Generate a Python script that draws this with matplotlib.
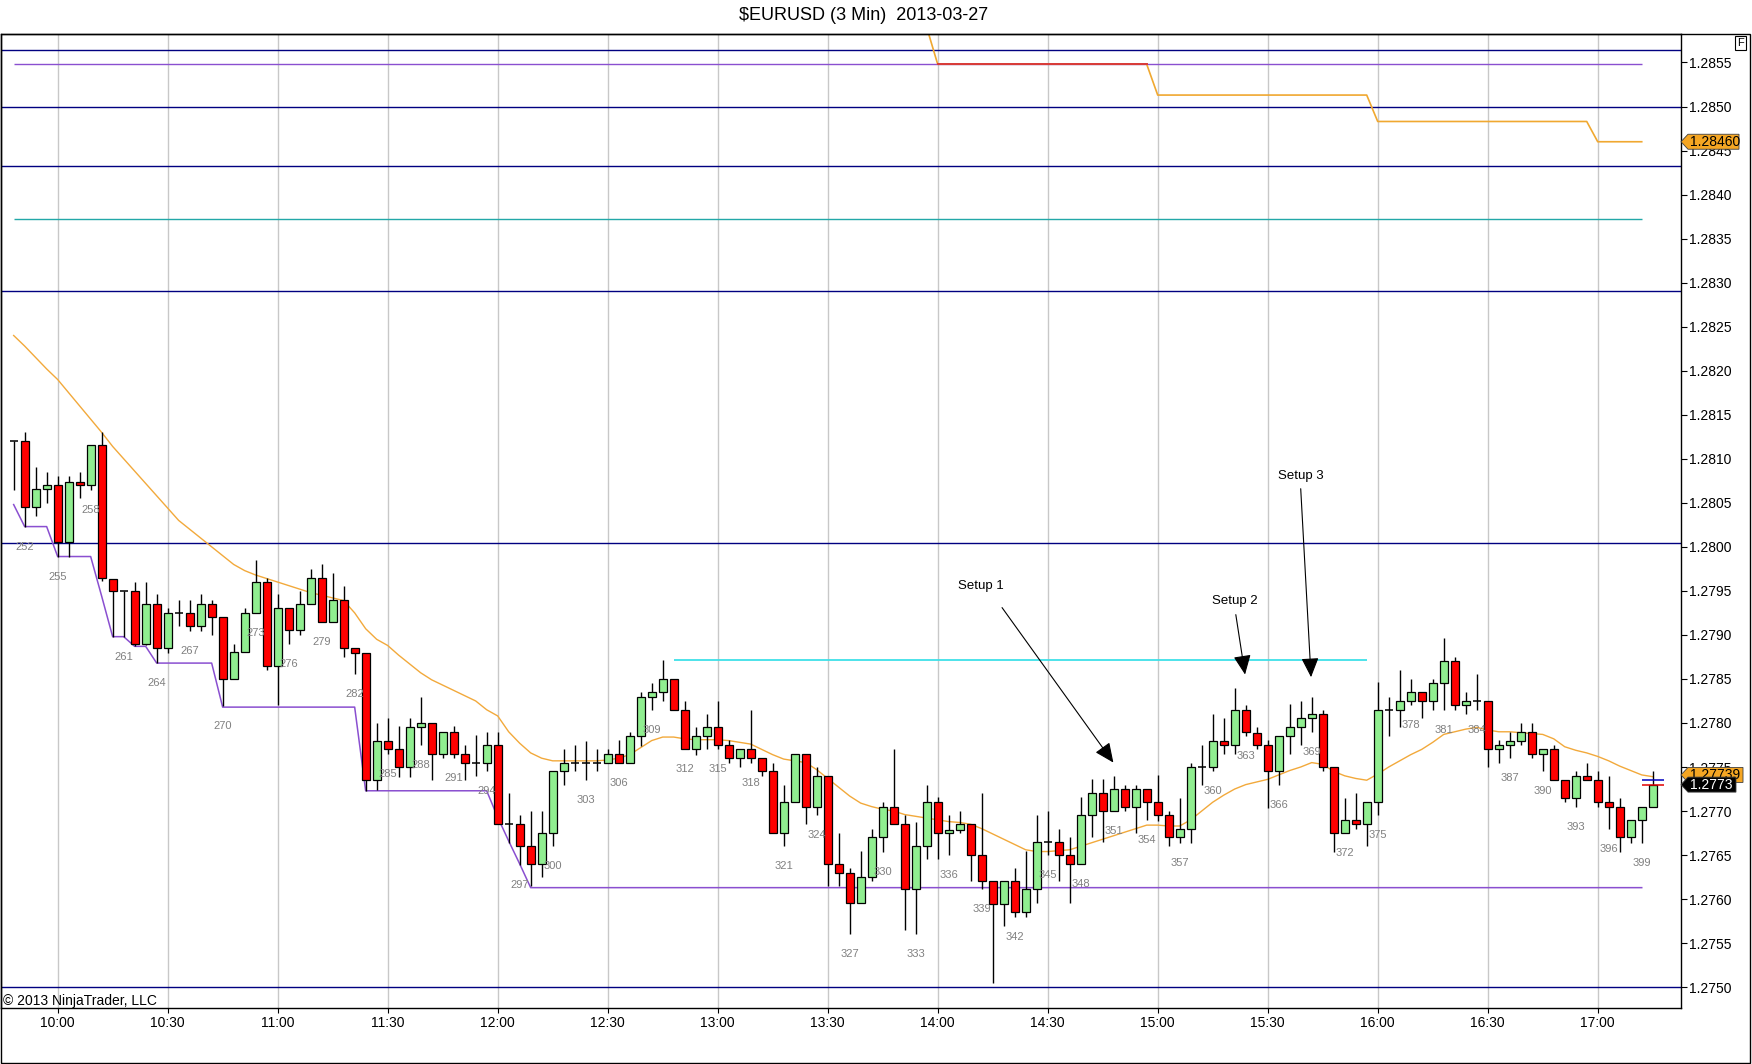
import numpy as np
import matplotlib
matplotlib.use('Agg')
import matplotlib.pyplot as plt
from matplotlib.patches import Rectangle, Polygon
from matplotlib import transforms

plt.rcParams['font.family'] = ['Liberation Sans', 'DejaVu Sans']

# ---- data: 3 min bars, index 251..400 ----
first_bar = 251

opens = [
    1.28120, 1.28120, 1.28045, 1.28066, 1.28070, 1.28005, 1.28074, 1.28070, 1.28116, 1.27964,
    1.27950, 1.27950, 1.27890, 1.27935, 1.27885, 1.27925, 1.27925, 1.27910, 1.27935, 1.27920,
    1.27850, 1.27881, 1.27925, 1.27960, 1.27865, 1.27930, 1.27906, 1.27935, 1.27965, 1.27915,
    1.27940, 1.27885, 1.27880, 1.27735, 1.27780, 1.27770, 1.27750, 1.27795, 1.27800, 1.27765,
    1.27790, 1.27765, 1.27755, 1.27755, 1.27775, 1.27685, 1.27685, 1.27660, 1.27640, 1.27675,
    1.27745, 1.27755, 1.27755, 1.27755, 1.27755, 1.27765, 1.27755, 1.27785, 1.27830, 1.27835,
    1.27850, 1.27815, 1.27770, 1.27785, 1.27795, 1.27775, 1.27760, 1.27770, 1.27760, 1.27745,
    1.27675, 1.27710, 1.27765, 1.27705, 1.27740, 1.27640, 1.27630, 1.27596, 1.27625, 1.27670,
    1.27705, 1.27685, 1.27611, 1.27660, 1.27710, 1.27675, 1.27679, 1.27685, 1.27650, 1.27621,
    1.27595, 1.27620, 1.27585, 1.27611, 1.27665, 1.27665, 1.27650, 1.27640, 1.27696, 1.27720,
    1.27700, 1.27725, 1.27705, 1.27725, 1.27710, 1.27695, 1.27670, 1.27680, 1.27750, 1.27750,
    1.27780, 1.27775, 1.27815, 1.27789, 1.27775, 1.27745, 1.27785, 1.27795, 1.27806, 1.27810,
    1.27750, 1.27675, 1.27690, 1.27685, 1.27710, 1.27815, 1.27815, 1.27825, 1.27835, 1.27825,
    1.27845, 1.27870, 1.27820, 1.27825, 1.27825, 1.27770, 1.27775, 1.27780, 1.27790, 1.27765,
    1.27770, 1.27735, 1.27715, 1.27740, 1.27735, 1.27710, 1.27705, 1.27670, 1.27690, 1.27705,
]
highs = [
    1.28120, 1.28130, 1.28091, 1.28085, 1.28080, 1.28080, 1.28085, 1.28116, 1.28130, 1.27964,
    1.27950, 1.27960, 1.27960, 1.27946, 1.27930, 1.27940, 1.27940, 1.27946, 1.27940, 1.27920,
    1.27890, 1.27931, 1.27985, 1.27965, 1.27946, 1.27930, 1.27950, 1.27975, 1.27980, 1.27970,
    1.27956, 1.27885, 1.27880, 1.27800, 1.27806, 1.27796, 1.27806, 1.27830, 1.27800, 1.27790,
    1.27796, 1.27775, 1.27786, 1.27790, 1.27790, 1.27720, 1.27696, 1.27700, 1.27700, 1.27745,
    1.27770, 1.27775, 1.27780, 1.27770, 1.27771, 1.27781, 1.27790, 1.27835, 1.27845, 1.27871,
    1.27850, 1.27825, 1.27795, 1.27810, 1.27825, 1.27781, 1.27770, 1.27815, 1.27760, 1.27755,
    1.27730, 1.27765, 1.27765, 1.27750, 1.27740, 1.27675, 1.27635, 1.27655, 1.27680, 1.27710,
    1.27770, 1.27696, 1.27688, 1.27730, 1.27716, 1.27696, 1.27700, 1.27685, 1.27720, 1.27621,
    1.27620, 1.27635, 1.27655, 1.27696, 1.27700, 1.27680, 1.27670, 1.27716, 1.27736, 1.27736,
    1.27740, 1.27730, 1.27730, 1.27725, 1.27741, 1.27700, 1.27715, 1.27755, 1.27775, 1.27810,
    1.27806, 1.27840, 1.27820, 1.27795, 1.27781, 1.27785, 1.27821, 1.27825, 1.27830, 1.27815,
    1.27750, 1.27715, 1.27720, 1.27710, 1.27846, 1.27830, 1.27860, 1.27850, 1.27835, 1.27850,
    1.27896, 1.27875, 1.27835, 1.27856, 1.27825, 1.27781, 1.27790, 1.27800, 1.27800, 1.27770,
    1.27775, 1.27735, 1.27745, 1.27755, 1.27745, 1.27740, 1.27715, 1.27690, 1.27705, 1.27746,
]
lows = [
    1.28065, 1.28023, 1.28035, 1.28050, 1.27989, 1.27989, 1.28055, 1.28065, 1.27961, 1.27898,
    1.27898, 1.27887, 1.27888, 1.27868, 1.27880, 1.27910, 1.27905, 1.27905, 1.27900, 1.27819,
    1.27850, 1.27881, 1.27925, 1.27860, 1.27820, 1.27890, 1.27900, 1.27935, 1.27915, 1.27915,
    1.27875, 1.27856, 1.27723, 1.27724, 1.27765, 1.27739, 1.27739, 1.27775, 1.27735, 1.27760,
    1.27760, 1.27735, 1.27740, 1.27745, 1.27685, 1.27664, 1.27639, 1.27615, 1.27625, 1.27660,
    1.27730, 1.27745, 1.27735, 1.27745, 1.27755, 1.27755, 1.27755, 1.27774, 1.27815, 1.27825,
    1.27815, 1.27770, 1.27764, 1.27770, 1.27770, 1.27755, 1.27750, 1.27755, 1.27740, 1.27675,
    1.27660, 1.27710, 1.27685, 1.27695, 1.27615, 1.27615, 1.27560, 1.27596, 1.27620, 1.27654,
    1.27685, 1.27565, 1.27560, 1.27646, 1.27646, 1.27650, 1.27675, 1.27620, 1.27611, 1.27505,
    1.27570, 1.27580, 1.27580, 1.27596, 1.27650, 1.27620, 1.27596, 1.27640, 1.27670, 1.27665,
    1.27700, 1.27700, 1.27675, 1.27690, 1.27689, 1.27660, 1.27664, 1.27664, 1.27729, 1.27745,
    1.27765, 1.27765, 1.27785, 1.27770, 1.27704, 1.27729, 1.27765, 1.27775, 1.27790, 1.27745,
    1.27654, 1.27675, 1.27680, 1.27660, 1.27695, 1.27785, 1.27795, 1.27820, 1.27806, 1.27815,
    1.27815, 1.27815, 1.27810, 1.27815, 1.27750, 1.27754, 1.27760, 1.27775, 1.27760, 1.27745,
    1.27735, 1.27710, 1.27705, 1.27735, 1.27705, 1.27680, 1.27654, 1.27664, 1.27664, 1.27705,
]
closes = [
    1.28120, 1.28045, 1.28066, 1.28070, 1.28005, 1.28074, 1.28070, 1.28116, 1.27965, 1.27950,
    1.27950, 1.27890, 1.27935, 1.27885, 1.27925, 1.27925, 1.27910, 1.27935, 1.27920, 1.27850,
    1.27881, 1.27925, 1.27960, 1.27865, 1.27930, 1.27906, 1.27935, 1.27965, 1.27915, 1.27940,
    1.27885, 1.27880, 1.27735, 1.27780, 1.27770, 1.27750, 1.27795, 1.27800, 1.27765, 1.27790,
    1.27765, 1.27755, 1.27755, 1.27775, 1.27685, 1.27685, 1.27660, 1.27640, 1.27675, 1.27745,
    1.27755, 1.27755, 1.27755, 1.27755, 1.27765, 1.27755, 1.27785, 1.27830, 1.27835, 1.27850,
    1.27815, 1.27770, 1.27785, 1.27795, 1.27775, 1.27760, 1.27770, 1.27760, 1.27745, 1.27675,
    1.27710, 1.27765, 1.27705, 1.27740, 1.27640, 1.27630, 1.27596, 1.27625, 1.27670, 1.27705,
    1.27685, 1.27611, 1.27660, 1.27710, 1.27675, 1.27679, 1.27685, 1.27650, 1.27621, 1.27595,
    1.27620, 1.27585, 1.27611, 1.27665, 1.27665, 1.27650, 1.27640, 1.27696, 1.27720, 1.27700,
    1.27725, 1.27705, 1.27725, 1.27710, 1.27695, 1.27670, 1.27680, 1.27750, 1.27750, 1.27780,
    1.27775, 1.27815, 1.27790, 1.27775, 1.27745, 1.27785, 1.27795, 1.27806, 1.27810, 1.27750,
    1.27675, 1.27690, 1.27685, 1.27710, 1.27815, 1.27815, 1.27825, 1.27835, 1.27825, 1.27845,
    1.27870, 1.27820, 1.27825, 1.27825, 1.27770, 1.27775, 1.27780, 1.27790, 1.27765, 1.27770,
    1.27735, 1.27715, 1.27740, 1.27735, 1.27710, 1.27705, 1.27670, 1.27690, 1.27705, 1.27730,
]

# moving average (orange), one value per bar
ema = [
    1.28240, 1.28228, 1.28215, 1.28202, 1.28190, 1.28175, 1.28160, 1.28145, 1.28130, 1.28114,
    1.28100, 1.28086, 1.28072, 1.28058, 1.28044, 1.28030, 1.28020, 1.28010, 1.28000, 1.27990,
    1.27980, 1.27973, 1.27968, 1.27964, 1.27960, 1.27956, 1.27952, 1.27948, 1.27945, 1.27942,
    1.27939, 1.27925, 1.27907, 1.27895, 1.27888, 1.27877, 1.27867, 1.27857, 1.27849, 1.27843,
    1.27837, 1.27831, 1.27825, 1.27815, 1.27808, 1.27790, 1.27777, 1.27766, 1.27760, 1.27757,
    1.27757, 1.27757, 1.27757, 1.27757, 1.27758, 1.27760, 1.27764, 1.27772, 1.27780, 1.27784,
    1.27784, 1.27782, 1.27781, 1.27781, 1.27781, 1.27780, 1.27778, 1.27776, 1.27770, 1.27764,
    1.27759, 1.27757, 1.27755, 1.27747, 1.27737, 1.27727, 1.27717, 1.27709, 1.27705, 1.27702,
    1.27700, 1.27696, 1.27694, 1.27692, 1.27690, 1.27688, 1.27687, 1.27685, 1.27680, 1.27674,
    1.27668, 1.27662, 1.27656, 1.27654, 1.27654, 1.27655, 1.27656, 1.27660, 1.27664, 1.27668,
    1.27672, 1.27676, 1.27680, 1.27684, 1.27684, 1.27683, 1.27683, 1.27690, 1.27700, 1.27710,
    1.27718, 1.27725, 1.27730, 1.27733, 1.27736, 1.27741, 1.27746, 1.27750, 1.27755, 1.27753,
    1.27745, 1.27740, 1.27737, 1.27735, 1.27742, 1.27750, 1.27757, 1.27764, 1.27770, 1.27778,
    1.27787, 1.27790, 1.27793, 1.27795, 1.27792, 1.27790, 1.27790, 1.27789, 1.27788, 1.27787,
    1.27782, 1.27773, 1.27769, 1.27766, 1.27762, 1.27757, 1.27751, 1.27746, 1.27741, 1.27739,
]

# running low line (purple): bar where a level starts/ends and its value
low_line_bars = [251, 252, 254, 255, 258, 259, 260, 261, 262, 263, 264, 269, 270, 282,
                 283, 294, 295, 296, 297, 298, 399]
low_line_vals = [1.28048, 1.28023, 1.28023, 1.27989, 1.27989, 1.27944, 1.27898, 1.27898,
                 1.27887, 1.27887, 1.27868, 1.27868, 1.27818, 1.27818, 1.27723, 1.27723,
                 1.27693, 1.27666, 1.27640, 1.27613, 1.27613]

# hourly step line (top right)
step_bars = [334, 335, 354, 355, 374, 375, 394, 395, 399]
step_vals = [1.28590, 1.28548, 1.28548, 1.28513, 1.28513, 1.28483, 1.28483, 1.28460, 1.28460]

# horizontal levels
navy_levels = [1.28564, 1.28500, 1.28432, 1.28291, 1.28004, 1.27500]
purple_level = 1.28548
teal_level = 1.28372
cyan_level = 1.27871
cyan_span = (311, 374)
level_span = (251, 399)

time_bars = [255, 265, 275, 285, 295, 305, 315, 325, 335, 345, 355, 365, 375, 385, 395]
time_labels = ['10:00', '10:30', '11:00', '11:30', '12:00', '12:30', '13:00', '13:30',
               '14:00', '14:30', '15:00', '15:30', '16:00', '16:30', '17:00']

setup_texts = ['Setup 1', 'Setup 2', 'Setup 3']
setup_text_pos = [(338.9, 1.27955), (362.0, 1.27939), (368.0, 1.28080)]
setup_tail = [(340.85, 1.27931), (362.1, 1.27923), (368.0, 1.28066)]
setup_tip = [(350.97, 1.27755), (362.94, 1.27855), (368.94, 1.27852)]

last_ma = 1.27739
last_price = 1.2773
step_last = 1.28460

W, H = 1752, 1064
bars = np.arange(first_bar, first_bar + len(opens))
o = np.array(opens); h = np.array(highs); l = np.array(lows); c = np.array(closes)

fig = plt.figure(figsize=(W / 100, H / 100), dpi=100)
ax = fig.add_axes([1 / W, 55.7 / H, 1680 / W, 974 / H])
ax.set_xlim(249.85, 402.57)
ax.set_ylim(1.27476, 1.28582)

# vertical grid at half hours
for tb in time_bars:
    ax.axvline(tb, color='#C8C8C8', lw=1, zorder=0)

# levels
for lv in navy_levels:
    ax.axhline(lv, color='#000080', lw=1.0, zorder=1)
ax.hlines(purple_level, *level_span, color='#8A4FD0', lw=1.0, zorder=1)
ax.hlines(teal_level, *level_span, color='#22A8A8', lw=1.0, zorder=1)
ax.hlines(cyan_level, *cyan_span, color='#3FE0E8', lw=1.3, zorder=1)

# indicator lines
ax.plot(bars, ema, color='#F2A93B', lw=1.0, zorder=2)
ax.plot(low_line_bars, low_line_vals, color='#8A4FD0', lw=1.1, zorder=2)
ax.plot(step_bars, step_vals, color='#F0A830', lw=1.2, zorder=2)
ax.plot(step_bars[1:3], step_vals[1:3], color='#D83A3A', lw=1.4, zorder=2)

# candles
body_w = 0.73
up = c > o
down = c < o
flat = c == o
ax.vlines(bars, l, h, color='black', lw=1.0, zorder=3)
ax.bar(bars[up], (c - o)[up], bottom=o[up], width=body_w, color='#90EE90',
       edgecolor='black', linewidth=0.9, zorder=4)
ax.bar(bars[down], (o - c)[down], bottom=c[down], width=body_w, color='#FF0000',
       edgecolor='black', linewidth=0.9, zorder=4)
ax.hlines(c[flat], bars[flat] - body_w / 2, bars[flat] + body_w / 2, color='black',
          lw=1.1, zorder=4)

# bar numbers every 3rd bar
for b, lo in zip(bars, l):
    if (b - 252) % 3 == 0:
        ax.annotate(str(b), (b, lo), xytext=(0, -20), textcoords='offset pixels',
                    ha='center', va='center', fontsize=8, color='#808080', zorder=5)

# last bar markers
ax.hlines(1.27735, 399, 401, color='#0000C0', lw=1.1, zorder=5)
ax.hlines(1.27730, 399, 401, color='#E00000', lw=1.1, zorder=5)

# setups
for txt, tp, tl, tip in zip(setup_texts, setup_text_pos, setup_tail, setup_tip):
    ax.text(tp[0], tp[1], txt, ha='center', va='center', fontsize=9.5, color='black')
    ax.annotate('', xy=tip, xytext=tl,
                arrowprops=dict(arrowstyle='-|>,head_length=0.6,head_width=0.27',
                                mutation_scale=20, color='black', lw=0.8,
                                shrinkA=0, shrinkB=0))

# axes styling
for sp in ax.spines.values():
    sp.set_color('black')
    sp.set_linewidth(1)
ax.yaxis.tick_right()
yt = np.arange(1.2750, 1.28551, 0.0005)
ax.set_yticks(yt)
ax.set_yticklabels(['%.4f' % v for v in yt])
ax.tick_params(axis='y', direction='out', length=4.5, width=0.8, pad=1.5, labelsize=10)
ax.set_xticks(time_bars)
ax.set_xticklabels(time_labels)
ax.tick_params(axis='x', direction='out', length=3.6, width=0.8, pad=2, labelsize=10)

ax.text(2 / 1680, 0.0078, '\u00a9 2013 NinjaTrader, LLC', transform=ax.transAxes,
        ha='left', va='center', fontsize=10, color='black')

# price markers on the axis
blend = transforms.blended_transform_factory(ax.transAxes, ax.transData)
px = 1 / 1680.0
hh = 7.5 * 1.1351e-5


def marker(y, x_len, fc, tc, label, z):
    pts = [(1.0, y), (1.0 + 7 * px, y + hh), (1.0 + x_len * px, y + hh),
           (1.0 + x_len * px, y - hh), (1.0 + 7 * px, y - hh)]
    ax.add_patch(Polygon(pts, closed=True, transform=blend, facecolor=fc,
                         edgecolor='#404040', lw=0.6, clip_on=False, zorder=10 + z))
    ax.text(1.0 + 9 * px, y, label, transform=blend, ha='left', va='center',
            fontsize=10, color=tc, clip_on=False, zorder=11 + z)


marker(step_last, 58, '#F5A623', 'black', '%.5f' % step_last, 0)
marker(last_ma + 0.00002, 62, '#F5A623', 'black', '%.5f' % last_ma, 0)
marker(last_price, 55, 'black', 'white', '%.4f' % last_price, 2)

# outer frame, title, F box
fig.patches.append(Rectangle((0.5 / W, 1.5 / H), 1749 / W, (1062.7 - 34.3) / H,
                             transform=fig.transFigure, fill=False,
                             edgecolor='black', lw=1))
fig.text(864 / W, 1 - 16 / H, '$EURUSD (3 Min)  2013-03-27', ha='center', va='center',
         fontsize=13)
fig.text(1740.5 / W, 1 - 43 / H, 'F', ha='center', va='center', fontsize=8,
         bbox=dict(facecolor='white', edgecolor='black', lw=0.8, pad=1.5))

fig.savefig('out.png', dpi=100)
